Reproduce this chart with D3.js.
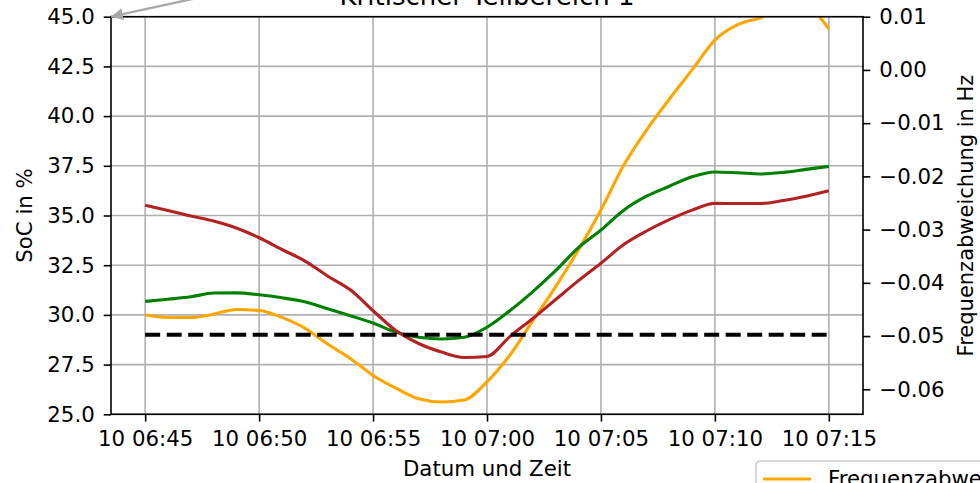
<!DOCTYPE html>
<html>
<head>
<meta charset="utf-8">
<script src="https://cdn.jsdelivr.net/npm/d3@7"></script>
<style>
body { margin: 0; background: #fff; }
text { font-family: "DejaVu Sans", sans-serif; fill: #000; }
</style>
</head>
<body>
<script>
// Zeitpunkte (Tag 10), eine Minute Abstand
var zeiten = ["06:45","06:46","06:47","06:48","06:49","06:50","06:51","06:52","06:53","06:54",
              "06:55","06:56","06:57","06:58","06:59","07:00","07:01","07:02","07:03","07:04",
              "07:05","07:06","07:07","07:08","07:09","07:10","07:11","07:12","07:13","07:14","07:15"];

// SoC in % (rote Kurve)
var socRot = [35.52,35.25,34.97,34.72,34.37,33.88,33.29,32.72,31.96,31.26,
              30.21,29.21,28.56,28.13,27.86,27.91,28.91,29.81,30.76,31.71,
              32.60,33.54,34.22,34.79,35.27,35.61,35.60,35.60,35.75,35.97,36.24];

// SoC in % (gruene Kurve)
var socGruen = [30.68,30.79,30.91,31.10,31.11,31.01,30.86,30.66,30.31,29.96,
                29.59,29.13,28.88,28.79,28.88,29.38,30.21,31.16,32.21,33.37,
                34.27,35.27,35.97,36.47,36.95,37.19,37.15,37.09,37.17,37.32,37.47];

// Frequenzabweichung in Hz (orange Kurve, rechte Achse)
var frequenz = [-0.0460,-0.0465,-0.0465,-0.0459,-0.0450,-0.0452,-0.0465,-0.0485,-0.0515,-0.0542,
                -0.0574,-0.0598,-0.0618,-0.0624,-0.0620,-0.0586,-0.0536,-0.0472,-0.0408,-0.0339,
                -0.0263,-0.0179,-0.0113,-0.0055,0.0000,0.0056,0.0085,0.0098,0.0115,0.0117,0.0077];

var grenzwert = 29.0;   // gestrichelte Linie (SoC)

var socTicks = [25.0,27.5,30.0,32.5,35.0,37.5,40.0,42.5,45.0];
var freqTicks = [-0.06,-0.05,-0.04,-0.03,-0.02,-0.01,0.00,0.01];
var zeitTicks = ["06:45","06:50","06:55","07:00","07:05","07:10","07:15"];

var titel = "Kritischer Teilbereich 1";
var legendeText = "Frequenzabweichung";

var parse = function(t) { return d3.timeParse("%Y-%m-%d %H:%M")("2019-06-10 " + t); };

var svg = d3.select("body").append("svg")
    .attr("width", 980)
    .attr("height", 483);

var margin = {top: 16.7, right: 117, bottom: 68.7, left: 111},
    width = 980 - margin.left - margin.right,
    height = 483 - margin.top - margin.bottom;

var t0 = parse(zeiten[0]), t1 = parse(zeiten[zeiten.length - 1]);
var pad = (t1 - t0) * 0.05;
var x = d3.scaleTime().domain([new Date(+t0 - pad), new Date(+t1 + pad)]).range([0, width]);
var yL = d3.scaleLinear().domain([25, 45]).range([height, 0]);
var yR = d3.scaleLinear().domain([-0.0647, 0.0100]).range([height, 0]);

var g = svg.append("g")
    .attr("transform", "translate(" + margin.left + "," + margin.top + ")");

svg.append("defs").append("clipPath").attr("id", "plotclip")
  .append("rect").attr("width", width).attr("height", height);

// Gitter
g.append("g").selectAll("line.gx")
    .data(zeitTicks).enter().append("line")
    .attr("x1", function(d) { return x(parse(d)); })
    .attr("x2", function(d) { return x(parse(d)); })
    .attr("y1", 0).attr("y2", height)
    .attr("stroke", "#b0b0b0").attr("stroke-width", 1.6);
g.append("g").selectAll("line.gy")
    .data(socTicks).enter().append("line")
    .attr("x1", 0).attr("x2", width)
    .attr("y1", function(d) { return yL(d); })
    .attr("y2", function(d) { return yL(d); })
    .attr("stroke", "#b0b0b0").attr("stroke-width", 1.6);

var plot = g.append("g").attr("clip-path", "url(#plotclip)");

var lineL = function(arr) {
  return d3.line()
    .x(function(d, i) { return x(parse(zeiten[i])); })
    .y(function(d) { return yL(d); })
    .curve(d3.curveMonotoneX)(arr);
};
var lineR = d3.line()
    .x(function(d, i) { return x(parse(zeiten[i])); })
    .y(function(d) { return yR(d); })
    .curve(d3.curveMonotoneX);

plot.append("path").attr("d", lineR(frequenz))
    .attr("fill", "none").attr("stroke", "#ffa500").attr("stroke-width", 3.1);
plot.append("path").attr("d", lineL(socGruen))
    .attr("fill", "none").attr("stroke", "#008000").attr("stroke-width", 3.1);
plot.append("path").attr("d", lineL(socRot))
    .attr("fill", "none").attr("stroke", "#b22222").attr("stroke-width", 3.1);

plot.append("line")
    .attr("x1", x(t0)).attr("x2", x(t1))
    .attr("y1", yL(grenzwert)).attr("y2", yL(grenzwert))
    .attr("stroke", "#000").attr("stroke-width", 4)
    .attr("stroke-dasharray", "15,6.5");

// Achsen
var axX = g.append("g").attr("transform", "translate(0," + height + ")")
    .call(d3.axisBottom(x).tickValues(zeitTicks.map(parse))
          .tickFormat(d3.timeFormat("%d %H:%M")).tickSizeOuter(0).tickSize(7.3).tickPadding(9));
var axL = g.append("g")
    .call(d3.axisLeft(yL).tickValues(socTicks).tickFormat(d3.format(".1f"))
          .tickSizeOuter(0).tickSize(7.3).tickPadding(9));
var axR = g.append("g").attr("transform", "translate(" + width + ",0)")
    .call(d3.axisRight(yR).tickValues(freqTicks).tickFormat(d3.format(".2f"))
          .tickSizeOuter(0).tickSize(7.3).tickPadding(9));

[axX, axL, axR].forEach(function(a) {
  a.select(".domain").remove();
  a.selectAll(".tick line").attr("stroke", "#000").attr("stroke-width", 1.6);
  a.selectAll(".tick text").style("font-size", "21.3px").style("font-family", "DejaVu Sans");
});

// Rahmen
g.append("rect").attr("width", width).attr("height", height)
    .attr("fill", "none").attr("stroke", "#000").attr("stroke-width", 1.6);

// Beschriftungen
svg.append("text")
    .attr("x", margin.left + width / 2).attr("y", 5)
    .attr("text-anchor", "middle").style("font-size", "26px")
    .text(titel);

svg.append("text")
    .attr("x", margin.left + width / 2).attr("y", 476)
    .attr("text-anchor", "middle").style("font-size", "21.3px")
    .text("Datum und Zeit");

svg.append("text")
    .attr("transform", "translate(32," + (margin.top + height / 2) + ") rotate(-90)")
    .attr("text-anchor", "middle").style("font-size", "21.3px")
    .text("SoC in %");

svg.append("text")
    .attr("transform", "translate(973," + (margin.top + height / 2) + ") rotate(-90)")
    .attr("text-anchor", "middle").style("font-size", "21px")
    .text("Frequenzabweichung in Hz");

// Pfeil oben links
svg.select("defs").append("marker")
    .attr("id", "spitze").attr("viewBox", "0 0 10 10")
    .attr("refX", 10).attr("refY", 5)
    .attr("markerWidth", 5).attr("markerHeight", 5)
    .attr("orient", "auto")
  .append("path").attr("d", "M0,0 L10,5 L0,10 z").attr("fill", "#a9a9a9");
var spitzeX = margin.left + x(x.domain()[0]), spitzeY = margin.top + yL(45);
svg.append("line")
    .attr("x1", spitzeX + 115).attr("y1", spitzeY - 25)
    .attr("x2", spitzeX).attr("y2", spitzeY)
    .attr("stroke", "#a9a9a9").attr("stroke-width", 2.4)
    .attr("marker-end", "url(#spitze)");

// Legende (unten rechts, teilweise ausserhalb)
var leg = svg.append("g").attr("transform", "translate(756,461)");
leg.append("rect").attr("width", 400).attr("height", 100).attr("rx", 4)
    .attr("fill", "#fff").attr("fill-opacity", 0.8)
    .attr("stroke", "#cccccc").attr("stroke-width", 1.6);
leg.append("line").attr("x1", 7).attr("x2", 55).attr("y1", 18).attr("y2", 18)
    .attr("stroke", "#ffa500").attr("stroke-width", 3.1);
leg.append("text").attr("x", 72).attr("y", 25).style("font-size", "21.3px")
    .text(legendeText);
</script>
</body>
</html>
